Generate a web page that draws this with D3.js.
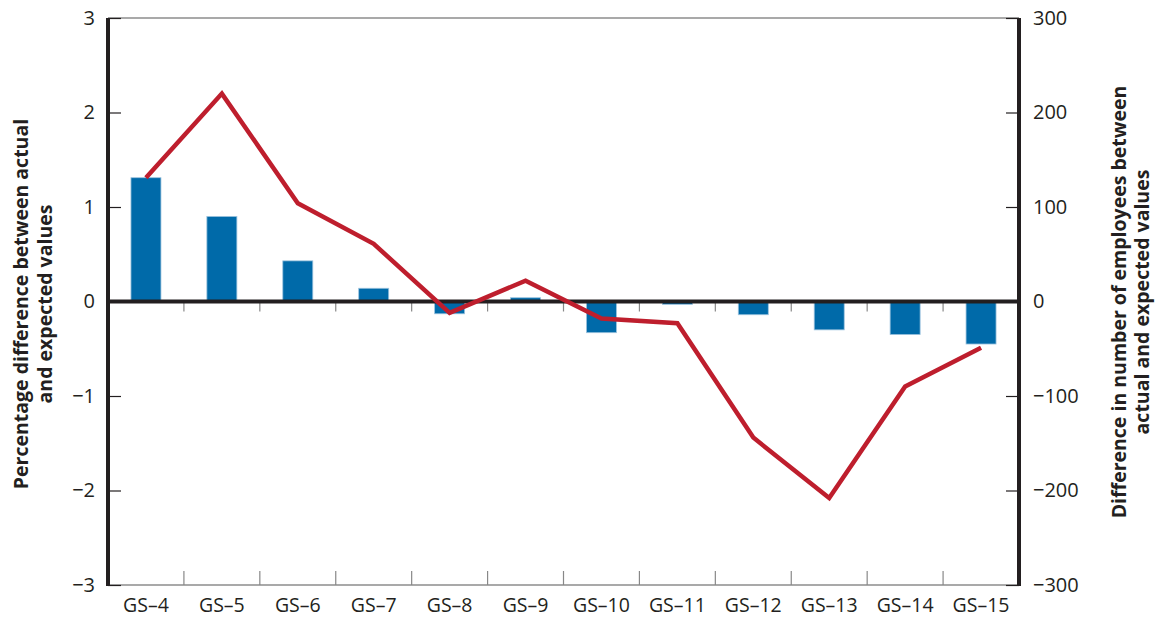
<!DOCTYPE html>
<html><head><meta charset="utf-8">
<script src="https://cdn.jsdelivr.net/npm/d3@7"></script>
<style>body{margin:0;background:#fff}text{font-family:"Open Sans","Noto Sans",sans-serif;fill:#231f20}</style>
</head><body><svg id="c" width="1157" height="618"></svg>
<script>
const categories = ["GS\u20134","GS\u20135","GS\u20136","GS\u20137","GS\u20138","GS\u20139","GS\u201310","GS\u201311","GS\u201312","GS\u201313","GS\u201314","GS\u201315"];
const pctDiff = [1.31, 0.90, 0.43, 0.14, -0.13, 0.04, -0.33, -0.03, -0.14, -0.30, -0.35, -0.45];
const numDiff = [131, 220, 104, 61, -12, 22, -18, -23, -144, -208, -90, -49];
const leftTicks = [-3, -2, -1, 0, 1, 2, 3];
const rightTicks = [-300, -200, -100, 0, 100, 200, 300];

const svg = d3.select("#c");
const L = 108, R = 1019, T = 18, B = 585;
const x = d3.scaleBand().domain(categories).range([L, R]);
const yL = d3.scaleLinear().domain([-3, 3]).range([B, T]);
const yR = d3.scaleLinear().domain([-300, 300]).range([B, T]);
const dark = "#231f20";

// borders
svg.append("line").attr("x1", L).attr("x2", R).attr("y1", T).attr("y2", T).attr("stroke", "#555").attr("stroke-width", 1.2);
svg.append("line").attr("x1", L).attr("x2", R).attr("y1", B).attr("y2", B).attr("stroke", "#555").attr("stroke-width", 1.2);

// category boundary ticks
const bounds = categories.slice(1).map(c => x(c));
svg.selectAll(".bt").data(bounds).join("line").attr("x1", d => d).attr("x2", d => d)
  .attr("y1", B).attr("y2", B - 14).attr("stroke", "#888").attr("stroke-width", 1.2);
svg.selectAll(".zt").data(bounds).join("line").attr("x1", d => d).attr("x2", d => d)
  .attr("y1", yL(0)).attr("y2", yL(0) + 10).attr("stroke", "#888").attr("stroke-width", 1.2);

// bars
const bw = 30;
svg.selectAll(".bar").data(pctDiff).join("rect")
  .attr("x", (d, i) => x(categories[i]) + x.bandwidth() / 2 - bw / 2)
  .attr("width", bw)
  .attr("y", d => yL(Math.max(0, d)))
  .attr("height", d => Math.abs(yL(d) - yL(0)))
  .attr("fill", "#006aa9").attr("stroke", "#9cc3de").attr("stroke-width", 0.8);

// zero line
svg.append("line").attr("x1", L).attr("x2", R).attr("y1", yL(0)).attr("y2", yL(0)).attr("stroke", dark).attr("stroke-width", 4);

// line
const line = d3.line().x((d, i) => x(categories[i]) + x.bandwidth() / 2).y(d => yR(d));
svg.append("path").datum(numDiff).attr("d", line).attr("fill", "none")
  .attr("stroke", "#be1e2d").attr("stroke-width", 4.5).attr("stroke-linejoin", "miter");

// left axis
const gl = svg.append("g").attr("transform", `translate(${L},0)`)
  .call(d3.axisLeft(yL).tickValues(leftTicks).tickSize(-13).tickPadding(13).tickFormat(d => d < 0 ? "\u2212" + Math.abs(d) : d));
gl.select(".domain").remove();
gl.selectAll(".tick line").attr("stroke", dark).attr("stroke-width", 1.2);
gl.selectAll(".tick text").attr("font-size", 20).style("font-family", "'Open Sans'");
svg.append("line").attr("x1", L).attr("x2", L).attr("y1", T).attr("y2", B + 1).attr("stroke", dark).attr("stroke-width", 4);

// right axis
const gr = svg.append("g").attr("transform", `translate(${R},0)`)
  .call(d3.axisRight(yR).tickValues(rightTicks).tickSize(-13).tickPadding(14).tickFormat(d => d < 0 ? "\u2212" + Math.abs(d) : d));
gr.select(".domain").remove();
gr.selectAll(".tick line").attr("stroke", dark).attr("stroke-width", 1.2);
gr.selectAll(".tick text").attr("font-size", 20).style("font-family", "'Open Sans'");
svg.append("line").attr("x1", R).attr("x2", R).attr("y1", T).attr("y2", B + 1).attr("stroke", dark).attr("stroke-width", 4);

// x labels
svg.selectAll(".xl").data(categories).join("text")
  .attr("x", d => x(d) + x.bandwidth() / 2).attr("y", 612)
  .attr("text-anchor", "middle").attr("font-size", 19.5).text(d => d);

// axis titles
const lt = svg.append("text").attr("transform", "translate(0,304) rotate(-90)").attr("text-anchor", "middle")
  .attr("font-size", 19.5).attr("font-weight", "bold");
lt.append("tspan").attr("x", 0).attr("y", 28).text("Percentage difference between actual");
lt.append("tspan").attr("x", 0).attr("y", 52).text("and expected values");
const rt = svg.append("text").attr("transform", "translate(0,302) rotate(-90)").attr("text-anchor", "middle")
  .attr("font-size", 19.5).attr("font-weight", "bold");
rt.append("tspan").attr("x", 0).attr("y", 1126).text("Difference in number of employees between");
rt.append("tspan").attr("x", 0).attr("y", 1149).text("actual and expected values");
</script></body></html>
